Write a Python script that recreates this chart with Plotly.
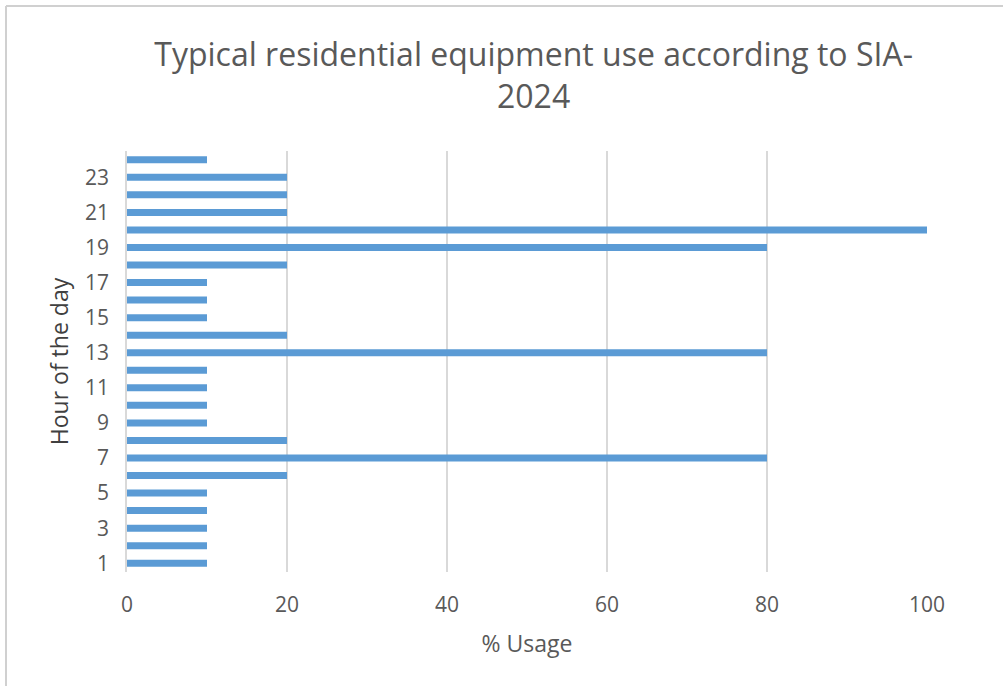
import plotly.graph_objects as go

# Hourly equipment usage profile (percent), hours 1..24
hours = list(range(1, 25))
usage = [10, 10, 10, 10, 10, 20, 80, 20, 10, 10, 10, 10,
         80, 20, 10, 10, 10, 20, 80, 100, 20, 20, 20, 10]
x_ticks = [0, 20, 40, 60, 80, 100]
y_ticks = list(range(1, 25, 2))

FONT = "Open Sans, Liberation Sans, sans-serif"
TEXT = "#595959"

fig = go.Figure(
    go.Bar(
        x=usage,
        y=hours,
        orientation="h",
        marker=dict(color="#5B9BD5", line=dict(width=0)),
        width=0.4,
    )
)

fig.update_layout(
    width=1003,
    height=686,
    margin=dict(l=127, r=76, t=151, b=114),
    paper_bgcolor="white",
    plot_bgcolor="white",
    showlegend=False,
    font=dict(family=FONT, color=TEXT),
    title=dict(
        text="Typical residential equipment use according to SIA-<br>2024",
        x=0.532,
        xanchor="center",
        y=1 - 66 / 686,
        yanchor="middle",
        font=dict(size=32, color=TEXT, family=FONT),
    ),
    xaxis=dict(
        range=[0, 100],
        tickvals=x_ticks,
        showgrid=True,
        gridcolor="#D9D9D9",
        gridwidth=1.5,
        zeroline=False,
        showline=False,
        tickfont=dict(size=21, color=TEXT),
        ticks="",
        ticklabelstandoff=18,
        title=dict(text="% Usage", font=dict(size=23, color=TEXT), standoff=18),
    ),
    yaxis=dict(
        range=[0.5, 24.5],
        tickvals=y_ticks,
        showgrid=False,
        zeroline=False,
        showline=True,
        linecolor="#D9D9D9",
        linewidth=1.5,
        tickfont=dict(size=21, color=TEXT),
        ticks="",
        ticklabelstandoff=12,
        title=dict(text="Hour of the day", font=dict(size=23, color="#404040"), standoff=10),
    ),
)

# Outer chart frame (left and top edges visible)
fig.add_shape(type="line", xref="paper", yref="paper",
              x0=-121 / 800, x1=1.2, y0=1 + 145 / 421, y1=1 + 145 / 421,
              line=dict(color="#D0D0D0", width=2))
fig.add_shape(type="line", xref="paper", yref="paper",
              x0=-121 / 800, x1=-121 / 800, y0=-1, y1=1 + 145 / 421,
              line=dict(color="#D0D0D0", width=2))

fig.write_html("out.html")
